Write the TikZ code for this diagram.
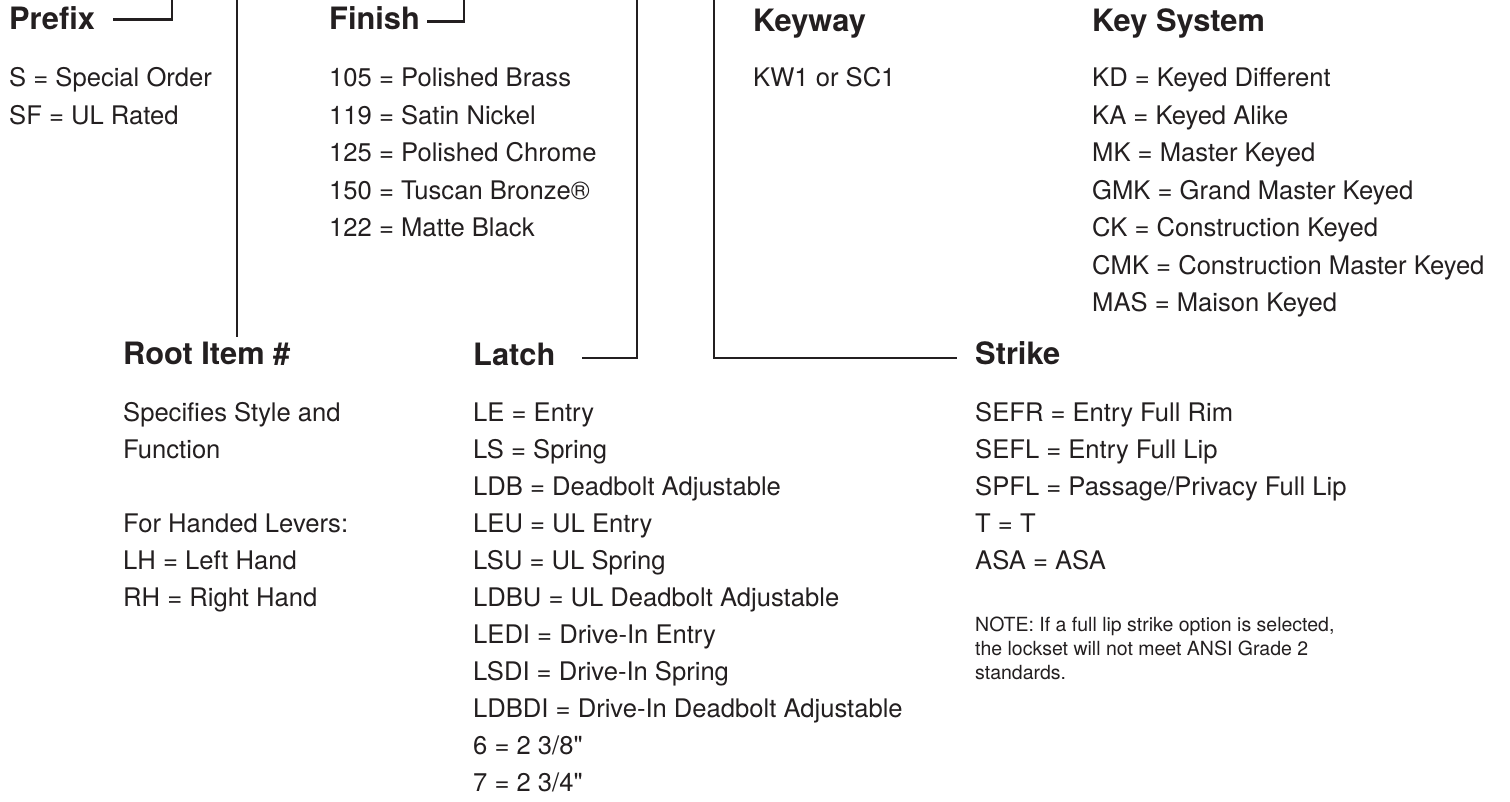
\documentclass[tikz,border=0pt]{standalone}
\usepackage{fontspec}
\setmainfont{TeX Gyre Heros}[Ligatures=TeXOff]
\definecolor{ink}{HTML}{231F20}
\begin{document}
\begin{tikzpicture}[x=1pt,y=-1pt,
  body/.style={anchor=base west, inner sep=0pt, text=ink, font=\fontsize{25.6}{30}\selectfont},
  head/.style={anchor=base west, inner sep=0pt, text=ink, font=\fontsize{30.8}{36}\selectfont\bfseries},
  notetext/.style={anchor=base west, inner sep=0pt, text=ink, font=\fontsize{19.5}{23}\selectfont},
  conn/.style={draw=ink, line width=2.4pt, line cap=butt, line join=miter}]
\useasboundingbox (0,0) rectangle (1510,802);
\fill[white] (0,0) rectangle (1510,802);

% headings
\node[head] (prefix) at (9,30) {Prefix};
\node[head] (finish) at (329,30) {Finish};
\node[head] (keyway) at (753,32) {Keyway};
\node[head] (keysys) at (1092,32) {Key System};
\node[head] (root) at (123,364) {Root Item \#};
\node[head] (latch) at (473,365) {Latch};
\node[head] (strike) at (975,364) {Strike};

% prefix items
\foreach \t [count=\i] in {S = Special Order, SF = UL Rated}
  \node[body] (pre\i) at (9,{87+(\i-1)*37.5}) {\t};
% finish items
\foreach \t [count=\i] in {105 = Polished Brass, 119 = Satin Nickel, 125 = Polished Chrome, 150 = Tuscan Bronze®, 122 = Matte Black}
  \node[body] (fin\i) at (329,{87+(\i-1)*37.5}) {\t};
% keyway
\node[body] (kw1) at (753,87) {KW1 or SC1};
% key system
\foreach \t [count=\i] in {KD = Keyed Different, KA = Keyed Alike, MK = Master Keyed, GMK = Grand Master Keyed, CK = Construction Keyed, CMK = Construction Master Keyed, MAS = Maison Keyed}
  \node[body] (ks\i) at (1092,{87+(\i-1)*37.5}) {\t};

% root item
\node[body] (ri1) at (123,421) {Specifies Style and};
\node[body] (ri2) at (123,458) {Function};
\node[body] (ri3) at (123,532) {For Handed Levers:};
\node[body] (ri4) at (123,569) {LH = Left Hand};
\node[body] (ri5) at (123,606) {RH = Right Hand};

% latch
\foreach \t [count=\i] in {LE = Entry, LS = Spring, LDB = Deadbolt Adjustable, LEU = UL Entry, LSU = UL Spring, LDBU = UL Deadbolt Adjustable, LEDI = Drive-In Entry, LSDI = Drive-In Spring, LDBDI = Drive-In Deadbolt Adjustable, 6 = 2 3/8", 7 = 2 3/4"}
  \node[body] (la\i) at (473,{421+(\i-1)*37}) {\t};

% strike
\foreach \t [count=\i] in {SEFR = Entry Full Rim, SEFL = Entry Full Lip, SPFL = Passage/Privacy Full Lip, T = T, ASA = ASA}
  \node[body] (st\i) at (975,{421+(\i-1)*37}) {\t};
\node[notetext] (note1) at (975,631) {NOTE: If a full lip strike option is selected,};
\node[notetext] (note2) at (975,655) {the lockset will not meet ANSI Grade 2};
\node[notetext] (note3) at (975,679) {standards.};

% connectors
\coordinate (prefix-in) at (113,19.5);
\coordinate (prefix-top) at (172,-2);
\coordinate (finish-in) at (427,21.5);
\coordinate (finish-top) at (464,-2);
\coordinate (root-top) at (237,-2);
\coordinate (root-in) at (237,337);
\coordinate (latch-in) at (582,358);
\coordinate (latch-top) at (637,-2);
\coordinate (keyway-top) at (714,-2);
\coordinate (strike-in) at (957,358);

\draw[conn] (prefix-in) -| (prefix-top);
\draw[conn] (finish-in) -| (finish-top);
\draw[conn] (root-top) -- (root-in);
\draw[conn] (latch-in) -| (latch-top);
\draw[conn] (keyway-top) |- (strike-in);
\end{tikzpicture}
\end{document}
